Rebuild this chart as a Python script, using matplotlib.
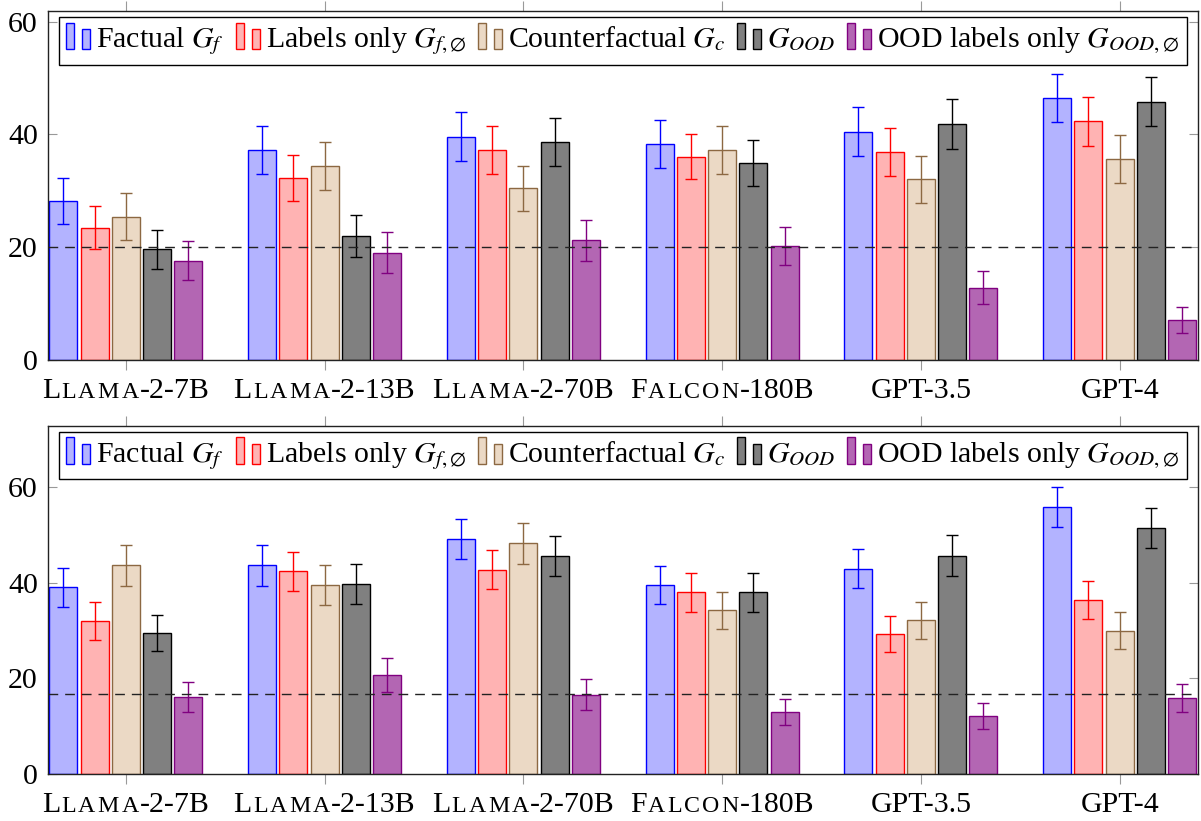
import numpy as np
import matplotlib
matplotlib.use("Agg")
from matplotlib import pyplot as plt
from matplotlib.patches import Rectangle
from matplotlib.legend_handler import HandlerBase
from matplotlib.offsetbox import TextArea, HPacker, AnnotationBbox

plt.rcParams['font.family'] = ['Liberation Serif', 'DejaVu Serif']
plt.rcParams['mathtext.fontset'] = 'stix'

# model names, split as (capital, small caps part, rest)
tick_parts = [("L", "LAMA", "-2-7B"), ("L", "LAMA", "-2-13B"), ("L", "LAMA", "-2-70B"),
              ("F", "ALCON", "-180B"), ("GPT-3.5", "", ""), ("GPT-4", "", "")]

series_names = [r"Factual $G_f$", r"Labels only $G_{f,\emptyset}$",
                r"Counterfactual $G_c$", r"$G_{OOD}$",
                r"OOD labels only $G_{OOD,\emptyset}$"]

# top panel
top_factual = [28.2, 37.2, 39.6, 38.3, 40.5, 46.5]
top_factual_err = [4.1, 4.3, 4.3, 4.2, 4.3, 4.3]
top_labels = [23.4, 32.2, 37.2, 36.0, 36.9, 42.3]
top_labels_err = [3.8, 4.1, 4.2, 4.0, 4.3, 4.3]
top_counter = [25.4, 34.4, 30.4, 37.2, 32.0, 35.6]
top_counter_err = [4.2, 4.2, 4.0, 4.2, 4.1, 4.2]
top_ood = [19.6, 22.0, 38.6, 34.9, 41.8, 45.8]
top_ood_err = [3.5, 3.7, 4.3, 4.1, 4.4, 4.4]
top_oodlab = [17.6, 19.0, 21.2, 20.2, 12.8, 7.1]
top_oodlab_err = [3.4, 3.6, 3.6, 3.4, 2.9, 2.3]
top_chance = 20.0

# bottom panel
bot_factual = [39.1, 43.7, 49.1, 39.6, 43.0, 55.8]
bot_factual_err = [4.1, 4.3, 4.2, 4.0, 4.0, 4.2]
bot_labels = [32.0, 42.4, 42.8, 38.0, 29.3, 36.5]
bot_labels_err = [4.0, 4.1, 4.1, 4.1, 3.7, 4.0]
bot_counter = [43.7, 39.6, 48.3, 34.3, 32.2, 30.0]
bot_counter_err = [4.3, 4.2, 4.3, 3.9, 3.9, 3.9]
bot_ood = [29.5, 39.8, 45.7, 38.0, 45.7, 51.5]
bot_ood_err = [3.8, 4.2, 4.2, 4.0, 4.3, 4.2]
bot_oodlab = [16.1, 20.7, 16.6, 12.9, 12.1, 15.9]
bot_oodlab_err = [3.1, 3.5, 3.2, 2.7, 2.7, 3.0]
bot_chance = 100 / 6

fills = ['#b3b3ff', '#ffb3b3', '#ebd9c5', '#808080', '#b366b3']
edges = ['#0000ff', '#ff0000', '#8c6842', '#000000', '#800080']

FS = 21.5


class TwoBars(HandlerBase):
    def create_artists(self, legend, orig_handle, xdescent, ydescent,
                       width, height, fontsize, trans):
        fc, ec = orig_handle
        x0 = -xdescent
        y0 = -ydescent - 0.1 * height
        w = width * 0.33
        r1 = Rectangle((x0, y0), w, height * 1.28, fc=fc, ec=ec, lw=1.0, transform=trans)
        r2 = Rectangle((x0 + width * 0.67, y0), w, height * 0.98, fc=fc, ec=ec, lw=1.0, transform=trans)
        return [r1, r2]


def panel(ax, values, errs, chance, ytop):
    x = np.arange(len(tick_parts))
    pitch = 0.157
    width = 0.141
    for i, (v, e) in enumerate(zip(values, errs)):
        off = (i - 2) * pitch
        ax.bar(x + off, v, width, color=fills[i], edgecolor=edges[i], linewidth=1.0, zorder=2)
        ax.errorbar(x + off, v, yerr=e, fmt='none', ecolor=edges[i], elinewidth=1.0,
                    capsize=4.2, capthick=1.0, zorder=3)
    ax.axhline(chance, color='#222222', lw=1.0, dashes=(7, 5), zorder=4)

    ax.set_xlim(-0.393, 5.393)
    ax.set_ylim(0, ytop)
    ax.set_yticks([0, 20, 40, 60])
    ax.set_xticks(x)
    ax.set_xticklabels([])
    ax.tick_params(axis='x', direction='out', top=True, length=7, width=0.8,
                   color='#999999')
    ax.tick_params(axis='y', direction='in', right=True, length=6.5, width=0.8,
                   color='#999999', labelsize=FS, pad=7)
    for s in ax.spines.values():
        s.set_linewidth(1.0)
        s.set_color('#222222')

    for xi, (a, b, c) in zip(x, tick_parts):
        kids = [TextArea(a, textprops=dict(fontsize=FS))]
        if b:
            small = [TextArea(ch, textprops=dict(fontsize=FS * 0.8)) for ch in b]
            kids.append(HPacker(children=small, align="baseline", pad=0, sep=1.6))
        if c:
            kids.append(TextArea(c, textprops=dict(fontsize=FS)))
        box = HPacker(children=kids, align="baseline", pad=0, sep=0.8)
        ab = AnnotationBbox(box, (xi, 0), xycoords=('data', 'axes fraction'),
                            xybox=(0, -13), boxcoords='offset points',
                            box_alignment=(0.5, 1.0), frameon=False,
                            annotation_clip=False)
        ax.add_artist(ab)

    handles = [(fills[i], edges[i]) for i in range(5)]
    leg = ax.legend(handles, series_names, handler_map={tuple: TwoBars()},
                    loc='upper left', bbox_to_anchor=(0.0098, 0.983), borderaxespad=0,
                    ncol=5, fontsize=FS, frameon=True, fancybox=False,
                    handlelength=0.8, handleheight=0.7, handletextpad=0.2,
                    columnspacing=0.4, borderpad=0.25)
    leg.get_frame().set_edgecolor('#000000')
    leg.get_frame().set_linewidth(1.0)
    leg.get_frame().set_alpha(1)
    leg.set_zorder(10)


fig = plt.figure(figsize=(12.01, 8.21), dpi=100)
ax1 = fig.add_axes([0.0397, 0.5619, 0.9576, 0.4247])
ax2 = fig.add_axes([0.0397, 0.0572, 0.9576, 0.4243])

panel(ax1, [top_factual, top_labels, top_counter, top_ood, top_oodlab],
      [top_factual_err, top_labels_err, top_counter_err, top_ood_err, top_oodlab_err],
      top_chance, 61.9)
panel(ax2, [bot_factual, bot_labels, bot_counter, bot_ood, bot_oodlab],
      [bot_factual_err, bot_labels_err, bot_counter_err, bot_ood_err, bot_oodlab_err],
      bot_chance, 72.9)

fig.savefig("out.png", dpi=100)
